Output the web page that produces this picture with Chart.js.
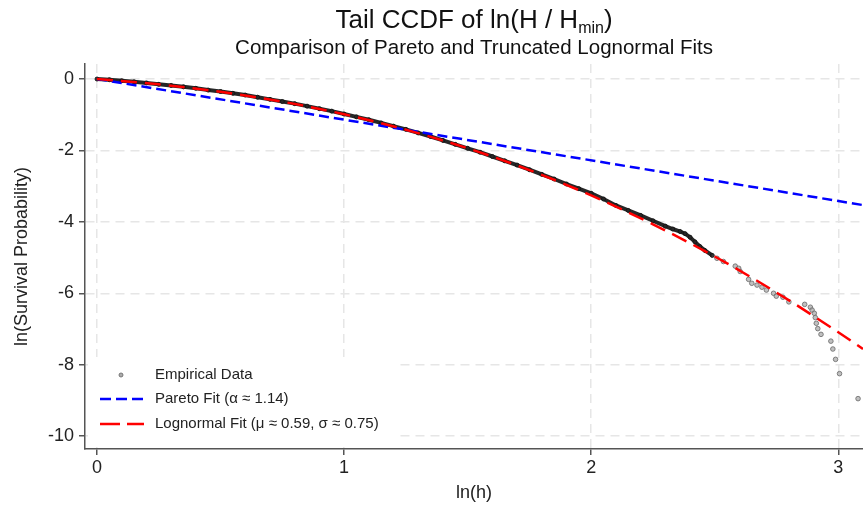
<!DOCTYPE html>
<html>
<head>
<meta charset="utf-8">
<script src="https://cdn.jsdelivr.net/npm/chart.js@4.4.1/dist/chart.umd.min.js"></script>
<style>
  html, body { margin: 0; padding: 0; background: #fff; }
  canvas { display: block; }
</style>
</head>
<body>
<canvas id="ccdf" width="863" height="506"></canvas>
<script>
// empirical CCDF, dense part (points overlap into a solid band)
const empXDense = [0.00, 0.05, 0.10, 0.15, 0.20, 0.25, 0.30, 0.35, 0.40, 0.45, 0.50, 0.55, 0.60, 0.65, 0.70, 0.75,
  0.80, 0.85, 0.90, 0.95, 1.00, 1.05, 1.10, 1.15, 1.20, 1.25, 1.30, 1.35, 1.40, 1.45, 1.50, 1.55, 1.60, 1.65,
  1.70, 1.75, 1.80, 1.85, 1.90, 1.95, 2.00, 2.05, 2.10, 2.15, 2.20, 2.25, 2.30, 2.33, 2.36, 2.38, 2.40, 2.42,
  2.44, 2.46, 2.49];
const empYDense = [0.00, -0.02, -0.05, -0.08, -0.11, -0.15, -0.18, -0.22, -0.26, -0.31, -0.35, -0.40, -0.45, -0.51,
  -0.57, -0.63, -0.69, -0.76, -0.83, -0.90, -0.98, -1.06, -1.14, -1.23, -1.32, -1.41, -1.51, -1.61, -1.72, -1.83,
  -1.94, -2.05, -2.17, -2.29, -2.41, -2.54, -2.67, -2.80, -2.94, -3.07, -3.20, -3.36, -3.54, -3.68, -3.82, -3.97,
  -4.12, -4.20, -4.27, -4.33, -4.43, -4.56, -4.69, -4.80, -4.94];

// empirical CCDF, sparse tail
const empXTail = [2.509, 2.535, 2.583, 2.597, 2.603, 2.637, 2.650, 2.671, 2.691, 2.709, 2.738, 2.749, 2.776, 2.800,
  2.864, 2.887, 2.894, 2.903, 2.907, 2.911, 2.917, 2.930, 2.970, 2.978, 2.989, 3.005, 3.080];
const empYTail = [-5.02, -5.11, -5.24, -5.30, -5.39, -5.61, -5.72, -5.77, -5.83, -5.91, -6.00, -6.08, -6.11, -6.24,
  -6.31, -6.39, -6.47, -6.56, -6.68, -6.84, -6.99, -7.15, -7.34, -7.56, -7.85, -8.25, -8.95];

// fitted curves
const paretoX = [0, 3.1];
const paretoY = [0, -3.53];
const lognormX = [0, 0.25, 0.5, 0.75, 1.0, 1.25, 1.5, 1.75, 2.0, 2.25, 2.5, 2.75, 3.0, 3.1];
const lognormY = [0, -0.15, -0.36, -0.635, -0.987, -1.42, -1.94, -2.55, -3.26, -4.07, -4.97, -5.98, -7.09, -7.56];

const xTicks = [0, 1, 2, 3];
const yTicks = [0, -2, -4, -6, -8, -10];

const legendItems = ['Empirical Data', 'Pareto Fit (α ≈ 1.14)', 'Lognormal Fit (μ ≈ 0.59, σ ≈ 0.75)'];

const FONT = '"Liberation Sans", Arial, Helvetica, sans-serif';
const pts = (xs, ys) => xs.map((x, i) => ({ x: x, y: ys[i] }));

// titles (with subscript) and the in-plot legend
const decor = {
  id: 'decor',
  beforeDatasetsDraw(chart) {
    const ctx = chart.ctx;
    const a = chart.chartArea;
    // legend box covers the grid lines behind it
    const bx = a.left + 3, by = 357, bw = 310, bh = a.bottom - 2 - by;
    ctx.save();
    ctx.fillStyle = '#fff';
    ctx.fillRect(bx, by, bw, bh);
    ctx.restore();
  },
  afterDraw(chart) {
    const ctx = chart.ctx;
    const a = chart.chartArea;
    const cx = (a.left + a.right) / 2;
    ctx.save();
    ctx.fillStyle = '#111';
    ctx.textBaseline = 'alphabetic';

    // main title: Tail CCDF of ln(H / H_min)
    const big = '26px ' + FONT, small = '16px ' + FONT;
    const t1 = 'Tail CCDF of ln(H / H', t2 = 'min', t3 = ')';
    ctx.font = big;
    const w1 = ctx.measureText(t1).width, w3 = ctx.measureText(t3).width;
    ctx.font = small;
    const w2 = ctx.measureText(t2).width;
    let x = cx - (w1 + w2 + w3) / 2;
    ctx.textAlign = 'left';
    ctx.font = big; ctx.fillText(t1, x, 28); x += w1;
    ctx.font = small; ctx.fillText(t2, x, 33); x += w2;
    ctx.font = big; ctx.fillText(t3, x, 28);

    // subtitle
    ctx.textAlign = 'center';
    ctx.font = '20.5px ' + FONT;
    ctx.fillText('Comparison of Pareto and Truncated Lognormal Fits', cx, 54);

    // legend entries
    const rows = [375, 399, 424];
    ctx.textAlign = 'left';
    ctx.textBaseline = 'middle';
    ctx.font = '15px ' + FONT;
    ctx.fillStyle = '#222';
    legendItems.forEach((txt, i) => ctx.fillText(txt, 155, rows[i]));

    ctx.beginPath();
    ctx.arc(121, rows[0], 2, 0, Math.PI * 2);
    ctx.fillStyle = 'rgba(150,150,150,0.8)';
    ctx.fill();
    ctx.strokeStyle = 'rgba(110,110,110,0.9)';
    ctx.lineWidth = 1;
    ctx.stroke();

    ctx.lineWidth = 2.5;
    ctx.strokeStyle = '#0000ff';
    ctx.setLineDash([11, 5]);
    ctx.beginPath(); ctx.moveTo(100, rows[1]); ctx.lineTo(144, rows[1]); ctx.stroke();
    ctx.strokeStyle = '#ff0000';
    ctx.setLineDash([20, 7]);
    ctx.beginPath(); ctx.moveTo(100, rows[2]); ctx.lineTo(144, rows[2]); ctx.stroke();
    ctx.restore();
  }
};

const gridCommon = {
  color: '#e6e6e6',
  lineWidth: 1.5,
  tickLength: 6,
  tickColor: '#555',
  tickWidth: 1.5
};

new Chart(document.getElementById('ccdf'), {
  type: 'scatter',
  data: {
    datasets: [
      {
        label: 'Empirical Data',
        data: pts(empXDense, empYDense),
        showLine: true,
        borderColor: 'rgba(15,15,15,0.9)',
        borderWidth: 4,
        pointRadius: 2,
        pointBackgroundColor: 'rgba(40,40,40,0.9)',
        pointBorderColor: 'rgba(20,20,20,0.9)',
        pointBorderWidth: 1,
        order: 3
      },
      {
        label: 'Empirical Data (tail)',
        data: pts(empXTail, empYTail),
        pointRadius: 2.3,
        pointBackgroundColor: 'rgba(165,165,165,0.7)',
        pointBorderColor: 'rgba(110,110,110,0.85)',
        pointBorderWidth: 1,
        order: 3
      },
      {
        label: 'Pareto Fit',
        data: pts(paretoX, paretoY),
        showLine: true,
        borderColor: '#0000ff',
        borderWidth: 2.5,
        borderDash: [10, 5],
        pointRadius: 0,
        order: 2
      },
      {
        label: 'Lognormal Fit',
        data: pts(lognormX, lognormY),
        showLine: true,
        borderColor: '#ff0000',
        borderWidth: 2.5,
        borderDash: [16, 8],
        cubicInterpolationMode: 'monotone',
        pointRadius: 0,
        order: 1
      }
    ]
  },
  options: {
    responsive: false,
    animation: false,
    layout: { autoPadding: false, padding: { top: 64, right: 0, left: 0, bottom: 0 } },
    plugins: {
      legend: { display: false },
      title: { display: false },
      tooltip: { enabled: false }
    },
    scales: {
      x: {
        type: 'linear',
        min: -0.0486,
        max: 3.1,
        afterFit(scale) { scale.height = 57; scale.paddingRight = 0; scale.paddingLeft = 0; },
        afterBuildTicks(scale) { scale.ticks = xTicks.map(v => ({ value: v })); },
        grid: gridCommon,
        border: { color: '#555', width: 1.5, dash: [9, 6] },
        ticks: { color: '#222', font: { family: FONT, size: 18 }, padding: 2, maxRotation: 0 },
        title: { display: true, text: 'ln(h)', color: '#222', font: { family: FONT, size: 18 }, padding: { top: 0, bottom: 2 } }
      },
      y: {
        type: 'linear',
        min: -10.36,
        max: 0.42,
        afterFit(scale) { scale.width = 85; scale.paddingTop = 0; scale.paddingBottom = 0; },
        afterBuildTicks(scale) { scale.ticks = yTicks.map(v => ({ value: v })); },
        grid: gridCommon,
        border: { color: '#555', width: 1.5, dash: [9, 6] },
        ticks: { color: '#222', font: { family: FONT, size: 18 }, padding: 5 },
        title: { display: true, text: 'ln(Survival Probability)', color: '#222', font: { family: FONT, size: 18 }, padding: { top: 11, bottom: 0 } }
      }
    }
  },
  plugins: [decor]
});
</script>
</body>
</html>
